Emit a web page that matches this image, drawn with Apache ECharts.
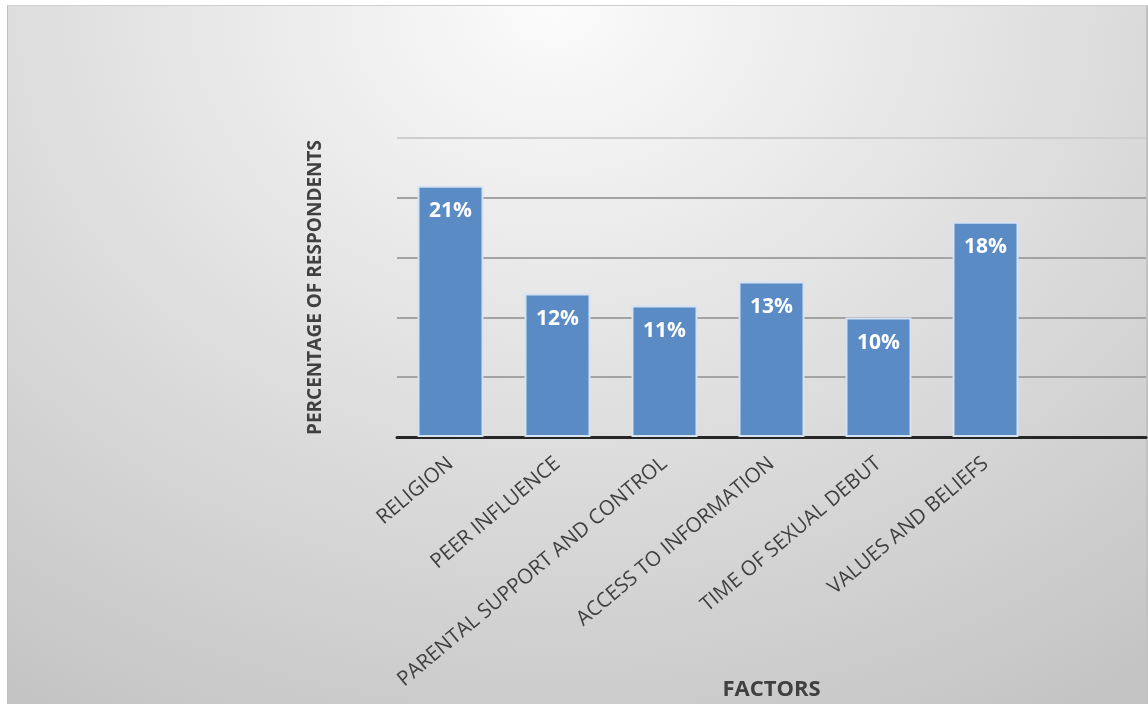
<!DOCTYPE html>
<html>
<head>
<meta charset="utf-8">
<script src="https://cdn.jsdelivr.net/npm/echarts@6/dist/echarts.min.js"></script>
<style>
html,body{margin:0;padding:0;background:#fff;}
#bg{position:absolute;left:7px;top:5px;width:1141px;height:699px;
  background:radial-gradient(ellipse 1000px 820px at 48% 0%, #fbfbfb 0%, #e2e2e2 45%, #c4c4c4 100%);
  border-top:1px solid #cfcfcf;border-left:1px solid #c0c0c0;border-right:2px solid #c2c2c2;box-sizing:border-box;}
#chart{position:absolute;left:0;top:0;width:1148px;height:705px;}
</style>
</head>
<body>
<div id="bg"></div>
<div id="chart"></div>
<script>
const categories = ["RELIGION","PEER INFLUENCE","PARENTAL SUPPORT AND CONTROL","ACCESS TO INFORMATION","TIME OF SEXUAL DEBUT","VALUES AND BELIEFS"];
const values = [21, 12, 11, 13, 10, 18];
const yTicks = [0, 5, 10, 15, 20, 25];
const xTitle = "FACTORS";
const yTitle = "PERCENTAGE OF RESPONDENTS";

const chart = echarts.init(document.getElementById('chart'), null, {renderer:'canvas'});
chart.setOption({
  backgroundColor: 'transparent',
  animation: false,
  grid: {left: 397, top: 138, right: 2, bottom: 268, containLabel: false, outerBoundsMode: 'none'},
  xAxis: {
    type: 'category',
    data: categories.concat(['']),
    name: xTitle,
    nameLocation: 'middle',
    nameGap: 242,
    nameMoveOverlap: false,
    nameTextStyle: {fontFamily: 'Open Sans', fontWeight: 'bold', fontSize: 22, color: '#404040'},
    axisLine: {lineStyle: {color: '#262626', width: 3}},
    axisTick: {show: false},
    axisLabel: {rotate: 40, interval: 0, margin: 24, fontFamily: 'Open Sans', fontSize: 20.5, color: '#404040'}
  },
  yAxis: {
    type: 'value',
    min: yTicks[0], max: yTicks[yTicks.length-1], interval: 5,
    name: yTitle,
    nameLocation: 'middle',
    nameGap: 72,
    nameMoveOverlap: false,
    nameTextStyle: {fontFamily: 'Open Sans', fontWeight: 'bold', fontSize: 19, color: '#404040'},
    axisLine: {show: false},
    axisTick: {show: false},
    axisLabel: {show: false},
    splitLine: {lineStyle: {color: ['#a3a3a3','#a3a3a3','#a3a3a3','#a3a3a3','#a3a3a3','#cdcdcd'], width: 2}}
  },
  series: [{
    type: 'bar',
    data: values,
    barWidth: 66,
    itemStyle: {color: '#5b8bc5', borderColor: '#d5e2f1', borderWidth: 2},
    label: {
      show: true, position: 'insideTop', distance: 15,
      formatter: p => p.value + '%',
      fontFamily: 'Open Sans', fontWeight: 'bold', fontSize: 21, color: '#ffffff'
    }
  }]
});
</script>
</body>
</html>
